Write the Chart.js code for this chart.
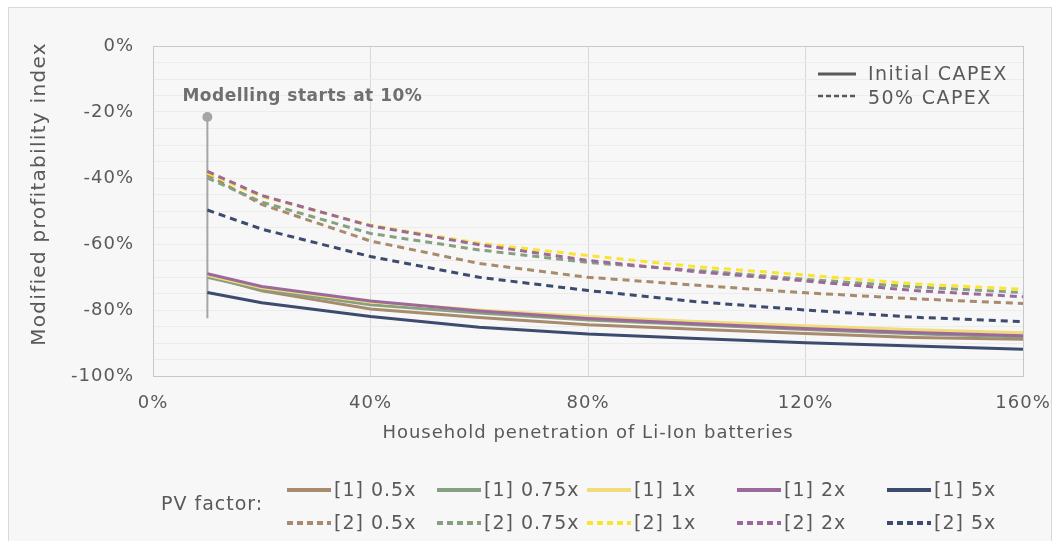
<!DOCTYPE html>
<html>
<head>
<meta charset="utf-8">
<script src="https://cdn.jsdelivr.net/npm/chart.js@4.4.1/dist/chart.umd.min.js"></script>
<style>
  html, body { margin: 0; padding: 0; background: #ffffff; }
  #frame { position: absolute; left: 8px; top: 7px; width: 1044px; height: 545px;
           border: 1px solid #d9d9d9; background: #f7f7f7; box-sizing: border-box; }
  #wrap { position: absolute; left: 0; top: 0; width: 1059px; height: 541px; }
</style>
</head>
<body>
<div id="frame"></div>
<div id="wrap"><canvas id="chart" width="1059" height="541"></canvas></div>
<script>
// Household penetration of Li-Ion batteries (%)
const penetration = [10, 20, 40, 60, 80, 100, 120, 140, 160];

// PV factor names and colours
const pvFactors = ['0.5x', '0.75x', '1x', '2x', '5x'];
const solidColours = ['#a88a6c', '#87a080', '#f0dc78', '#9b699b', '#3c4b6e'];
const dashColours = ['#a88a6c', '#87a080', '#fae432', '#9b699b', '#3c4b6e'];

// [1] Initial CAPEX – modified profitability index (%)
const initial05 = [-69.7, -74.2, -79.7, -82.3, -84.5, -85.8, -87.1, -88.3, -88.9];
const initial075 = [-70.1, -73.8, -78.4, -80.9, -83.0, -84.5, -85.9, -87.2, -88.2];
const initial1 = [-69.5, -73.3, -77.6, -80.0, -82.0, -83.5, -84.8, -86.0, -86.9];
const initial2 = [-69.0, -72.9, -77.3, -80.3, -82.6, -84.2, -85.6, -86.8, -87.8];
const initial5 = [-74.7, -77.8, -82.0, -85.2, -87.3, -88.6, -89.9, -90.9, -91.9];

// [2] 50% CAPEX – modified profitability index (%)
const half05 = [-39.0, -48.0, -59.1, -65.9, -70.1, -72.5, -74.8, -76.6, -78.0];
const half075 = [-40.0, -47.3, -56.8, -61.8, -65.6, -68.0, -70.7, -73.0, -74.7];
const half1 = [-38.5, -45.6, -54.3, -59.8, -63.5, -66.9, -69.4, -72.1, -73.7];
const half2 = [-38.0, -45.3, -54.5, -60.2, -65.0, -68.4, -71.2, -74.1, -76.0];
const half5 = [-49.7, -55.5, -63.8, -70.1, -74.1, -77.5, -80.0, -82.2, -83.5];

// Axis ticks
const xTicks = [0, 40, 80, 120, 160];
const yTicks = [0, -20, -40, -60, -80, -100];

// Marker for the start of the modelling range
const startX = 10;
const startTop = -21.5;
const startBottom = -82.5;
const startLabel = 'Modelling starts at 10%';

const xTitle = 'Household penetration of Li-Ion batteries';
const yTitle = 'Modified profitability index';
const legendTitle = 'PV factor:';
const capexNames = ['Initial CAPEX', '50% CAPEX'];

const FONT = '"DejaVu Sans", Verdana, sans-serif';
const TEXT = '#595959';
const SPACING = '1px';

const solidSeries = [initial05, initial075, initial1, initial2, initial5];
const dashSeries = [half05, half075, half1, half2, half5];

const toPoints = vals => vals.map((v, i) => ({ x: penetration[i], y: v }));

const datasets = [];
solidSeries.forEach((vals, i) => datasets.push({
  label: '[1] ' + pvFactors[i],
  data: toPoints(vals),
  borderColor: solidColours[i],
  backgroundColor: solidColours[i],
  borderWidth: 3,
  pointRadius: 0,
  tension: 0,
  order: 20 - i
}));
dashSeries.forEach((vals, i) => datasets.push({
  label: '[2] ' + pvFactors[i],
  data: toPoints(vals),
  borderColor: dashColours[i],
  backgroundColor: dashColours[i],
  borderWidth: 3,
  borderDash: [7, 5],
  pointRadius: 0,
  tension: 0,
  order: 10 - i
}));
datasets.push({
  label: 'start',
  data: [{ x: startX, y: startTop }, { x: startX, y: startBottom }],
  borderColor: '#a6a6a6',
  backgroundColor: '#a6a6a6',
  borderWidth: 2,
  pointRadius: [5, 0],
  pointBorderWidth: 0,
  order: 100
});

const decor = {
  id: 'decor',
  beforeUpdate(chart) { chart.ctx.letterSpacing = SPACING; },
  beforeDraw(chart) { chart.ctx.letterSpacing = SPACING; },
  afterDatasetsDraw(chart) {
    const ctx = chart.ctx;
    const sx = chart.scales.x, sy = chart.scales.y;
    ctx.save();
    ctx.letterSpacing = '0.5px';
    ctx.font = 'bold 17px ' + FONT;
    ctx.fillStyle = '#6f6f6f';
    ctx.textAlign = 'center';
    ctx.textBaseline = 'middle';
    ctx.fillText(startLabel, sx.getPixelForValue(startX) + 95, sy.getPixelForValue(startTop) - 20);
    ctx.restore();
  },
  afterDraw(chart) {
    const ctx = chart.ctx;
    ctx.save();
    ctx.letterSpacing = SPACING;
    ctx.fillStyle = TEXT;

    // Vertical axis title
    ctx.save();
    ctx.letterSpacing = '1.3px';
    ctx.font = '20px ' + FONT;
    ctx.textAlign = 'center';
    ctx.textBaseline = 'middle';
    ctx.translate(40, 194);
    ctx.rotate(-Math.PI / 2);
    ctx.fillText(yTitle, 0, 0);
    ctx.restore();

    // Horizontal axis title
    ctx.font = '18px ' + FONT;
    ctx.textAlign = 'center';
    ctx.textBaseline = 'middle';
    ctx.fillText(xTitle, (chart.chartArea.left + chart.chartArea.right) / 2, 433);

    // CAPEX key (line style)
    ctx.save();
    ctx.letterSpacing = '1.4px';
    ctx.font = '19px ' + FONT;
    ctx.textAlign = 'left';
    ctx.strokeStyle = TEXT;
    ctx.lineWidth = 3;
    ctx.setLineDash([]);
    ctx.beginPath(); ctx.moveTo(818, 74); ctx.lineTo(856, 74); ctx.stroke();
    ctx.lineWidth = 2.5;
    ctx.setLineDash([5, 3]);
    ctx.beginPath(); ctx.moveTo(818, 96); ctx.lineTo(856, 96); ctx.stroke();
    ctx.setLineDash([]);
    ctx.fillText(capexNames[0], 868, 75);
    ctx.fillText(capexNames[1], 868, 99);
    ctx.restore();

    // PV factor key (colour)
    ctx.font = '19px ' + FONT;
    ctx.textAlign = 'left';
    ctx.textBaseline = 'middle';
    ctx.fillText(legendTitle, 161, 505);
    const rows = [490, 523];
    chart.data.datasets.slice(0, 10).forEach((ds, k) => {
      const row = Math.floor(k / 5), col = k % 5;
      const x0 = 287 + col * 150, yy = rows[row];
      ctx.strokeStyle = ds.borderColor;
      ctx.lineWidth = 4;
      ctx.setLineDash(ds.borderDash ? [6, 4] : []);
      ctx.beginPath(); ctx.moveTo(x0, yy); ctx.lineTo(x0 + 44, yy); ctx.stroke();
      ctx.setLineDash([]);
      ctx.fillStyle = TEXT;
      ctx.fillText(ds.label, x0 + 47, yy + 1);
    });
    ctx.restore();
  }
};

Chart.defaults.font.family = FONT;
Chart.defaults.font.size = 18;
Chart.defaults.color = TEXT;

new Chart(document.getElementById('chart'), {
  type: 'line',
  data: { datasets },
  options: {
    responsive: false,
    animation: false,
    events: [],
    layout: { padding: { left: 0, top: 46, right: 36, bottom: 115 } },
    plugins: { legend: { display: false }, tooltip: { enabled: false } },
    scales: {
      x: {
        type: 'linear',
        min: 0, max: 160,
        afterBuildTicks: s => { s.ticks = xTicks.map(v => ({ value: v })); },
        afterFit: s => { s.height = 50; s.paddingLeft = 0; s.paddingRight = 0; },
        ticks: { padding: 17, callback: v => v + '%', maxRotation: 0, autoSkip: false },
        grid: {
          drawTicks: false,
          color: c => (c.tick && (c.tick.value === 0 || c.tick.value === 160)) ? '#c8c8c8' : '#d9d9d9',
          lineWidth: 1
        },
        border: { color: '#c8c8c8' }
      },
      y: {
        type: 'linear',
        min: -100, max: 0,
        afterFit: s => { s.width = 153; s.paddingTop = 0; s.paddingBottom = 0; },
        ticks: {
          stepSize: 5,
          padding: 19,
          autoSkip: false,
          callback: v => yTicks.includes(v) ? v + '%' : ''
        },
        grid: {
          drawTicks: false,
          color: c => (c.tick && (c.tick.value === 0 || c.tick.value === -100)) ? '#c8c8c8' : '#ececec',
          lineWidth: 1
        },
        border: { color: '#c8c8c8' }
      }
    }
  },
  plugins: [decor]
});
</script>
</body>
</html>
